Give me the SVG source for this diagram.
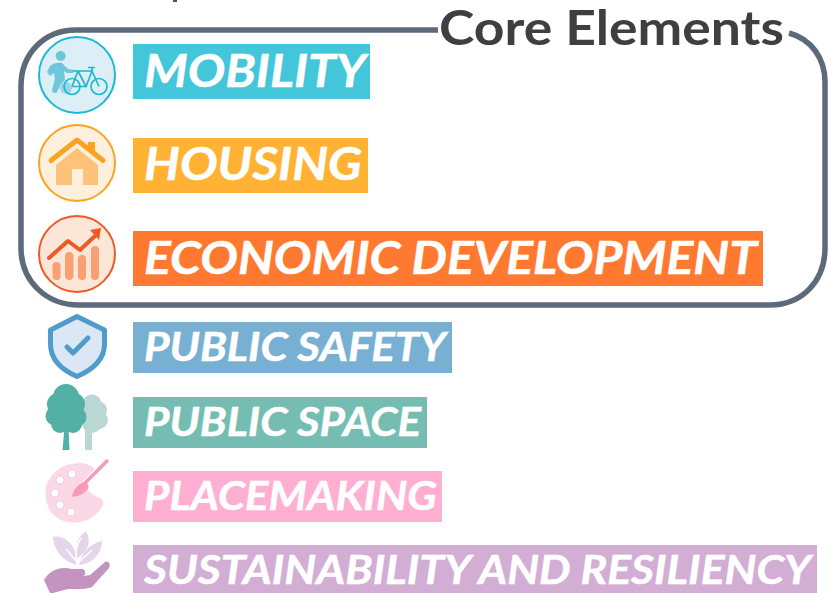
<svg xmlns="http://www.w3.org/2000/svg" width="832" height="593" viewBox="0 0 832 593">
<style>
.lbl{font-family:Lato,"Open Sans",sans-serif;font-weight:700;font-style:italic;fill:#fff;stroke:#fff;stroke-width:.5}
.big{font-size:45px}
.small{font-size:39.5px}
.frame{fill:none;stroke:#5b6b7a;stroke-width:5.5}
</style>
<rect width="832" height="593" fill="#fff"/>
<rect x="173" y="0" width="4" height="2" fill="#555"/>
<g id="connectors">
<path class="frame" d="M438 30H76C44 30 21 54 21 86V248C21 281 46 305 79 305H770C802 305 825 281 825 248V82C825 58 811 39 789 33"/>
</g>
<g id="core-title"><text x="439" y="44.500" font-family="Lato,sans-serif" font-weight="700" font-size="48.500" fill="#3f3f41" textLength="345" lengthAdjust="spacingAndGlyphs">Core Elements</text></g>
<g id="mobility">
<circle cx="77" cy="75" r="38" fill="#dceff6" stroke="#1db8d1" stroke-width="2"/>
<g fill="#6fc5da"><circle cx="60.700" cy="56" r="5"/><path d="M50 66C53 63 58 62 62 63L68 69L74 70L73 73L67 73L64 71L65 80L61 84L57 92C56 94 52 93 52 90L55 79L54 73L50 76L47 72Z"/><circle cx="66" cy="88" r="6" opacity=".6"/></g>
<g fill="none" stroke="#1fb6d0" stroke-width="1.700"><circle cx="72" cy="86.500" r="8"/><circle cx="99" cy="86.500" r="8"/><path d="M72 86.500L78 71H92L99 86.500M78 71L86 86.500H72M86 86.500L92 71M88 67.500H95M92 68V71M73 71H79"/></g>
</g>
<g id="mobility-label"><rect x="133" y="44" width="237" height="55" fill="#43c6da"/><text class="lbl big" x="144" y="87" textLength="222" lengthAdjust="spacingAndGlyphs">MOBILITY</text></g>
<g id="housing">
<circle cx="77" cy="163" r="38" fill="#fff0dd" stroke="#f9a31f" stroke-width="2"/>
<path d="M56 165L77 148L98 165V185H83V169H72V185H56Z" fill="#ffc27a"/>
<path d="M88 142H95V155L88 149Z" fill="#f9a31f"/>
<path d="M51 160.500L77 140L103 160.500" fill="none" stroke="#f9a31f" stroke-width="5" stroke-linecap="round" stroke-linejoin="round"/>
</g>
<g id="housing-label"><rect x="133" y="138" width="235" height="55" fill="#ffb233"/><text class="lbl big" x="144" y="180" textLength="218" lengthAdjust="spacingAndGlyphs">HOUSING</text></g>
<g id="economic">
<circle cx="77" cy="254" r="38" fill="#fce6d8" stroke="#ee5a24" stroke-width="2"/>
<g fill="#f99f72"><rect x="52.500" y="262" width="8" height="18" rx="4"/><rect x="65" y="252" width="8.500" height="28" rx="4.200"/><rect x="78" y="255" width="8" height="25" rx="4"/><rect x="91" y="246" width="8" height="34" rx="4"/></g>
<path d="M49 258L68 241L80 250L95 236" fill="none" stroke="#ee5a24" stroke-width="4" stroke-linecap="round" stroke-linejoin="round"/>
<path d="M90 230L101 228L99 240Z" fill="#ee5a24"/>
</g>
<g id="economic-label"><rect x="133" y="231" width="630" height="55" fill="#ff7a30"/><text class="lbl big" x="144" y="274" textLength="613" lengthAdjust="spacingAndGlyphs">ECONOMIC DEVELOPMENT</text></g>
<g id="safety">
<path d="M77 316.500L104.500 330V344C104.500 360 92 370 77 376.500C62 370 50.500 360 50.500 344V330Z" fill="#dbe7f4" stroke="#4f9ccb" stroke-width="5" stroke-linejoin="round"/>
<path d="M67 347L73 353L88 338" fill="none" stroke="#4f9ccb" stroke-width="5" stroke-linecap="round" stroke-linejoin="round"/>
</g>
<g id="safety-label"><rect x="133" y="322" width="319" height="51" fill="#78b0d3"/><text class="lbl small" x="144" y="361" textLength="302" lengthAdjust="spacingAndGlyphs">PUBLIC SAFETY</text></g>
<g id="space">
<g fill="#b9d8d4"><rect x="85" y="428" width="7" height="22"/><circle cx="92" cy="404" r="9.500"/><circle cx="98" cy="410" r="9"/><circle cx="99" cy="420" r="9"/><circle cx="92" cy="423" r="10"/><circle cx="87" cy="415" r="8"/></g>
<g fill="#53b0a4"><path d="M62.500 450L64.500 428H68.500L69.500 450Z"/><circle cx="66" cy="397" r="13"/><circle cx="58" cy="404" r="11"/><circle cx="74" cy="404" r="11"/><circle cx="55" cy="416" r="9.500"/><circle cx="77" cy="417" r="9.500"/><circle cx="60" cy="424" r="9"/><circle cx="73" cy="424" r="9"/><circle cx="66" cy="414" r="14"/></g>
</g>
<g id="space-label"><rect x="133" y="397" width="294" height="51" fill="#75bdb3"/><text class="lbl small" x="144" y="436" textLength="277" lengthAdjust="spacingAndGlyphs">PUBLIC SPACE</text></g>
<g id="placemaking">
<path d="M76 463C84 462 90 464 95 468L87 486C88 492 92 493 96 496C104 498 105 503 102 508C96 517 86 523 74 523C56 523 45 510 45 493C45 477 60 463 76 463Z" fill="#fad8e6" stroke="#fff" stroke-width="1"/>
<g fill="#fff" stroke="#e5b8cb" stroke-width=".6"><circle cx="60" cy="480" r="4"/><circle cx="72" cy="474" r="4"/><circle cx="55" cy="493" r="4"/><circle cx="60" cy="505" r="4"/><circle cx="71" cy="512" r="4"/></g>
<path d="M107 461L85 483" stroke="#fff" stroke-width="6" stroke-linecap="round"/>
<path d="M107 461L85 483" stroke="#f59ab9" stroke-width="3.500" stroke-linecap="round"/>
<path d="M72 497C73 489 79 483 85 482C89 484 90 488 86 491C82 495 78 496 72 497Z" fill="#f59ab9"/>
</g>
<g id="placemaking-label"><rect x="133" y="471" width="309" height="51" fill="#ffb0d2"/><text class="lbl small" x="144" y="510" textLength="293" lengthAdjust="spacingAndGlyphs">PLACEMAKING</text></g>
<g id="sustainability">
<path d="M53 537C65 534 78 546 77 565C65 562 54 552 53 537ZM86 531C92 542 88 552 77 558C74 550 76 538 86 531ZM102 541C102 554 92 564 79 565C82 552 90 544 102 541Z" fill="#e5d5ea"/>
<path d="M77 565C75 555 76 545 81 538M77 562L66 549M79 562L92 550" fill="none" stroke="#fff" stroke-width="1.500"/>
<path d="M44 580C50 570 60 566 72 569H83C86 571 86 575 83 576L71 578L90 575L105 562C109 560 111 565 109 568L92 587C85 590 75 589 68 589L53 593H50Z" fill="#c394c0"/>
</g>
<g id="sustainability-label"><rect x="133" y="545" width="684" height="48" fill="#d2aed5"/><text class="lbl small" x="144" y="584" textLength="667" lengthAdjust="spacingAndGlyphs">SUSTAINABILITY AND RESILIENCY</text></g>
</svg>
